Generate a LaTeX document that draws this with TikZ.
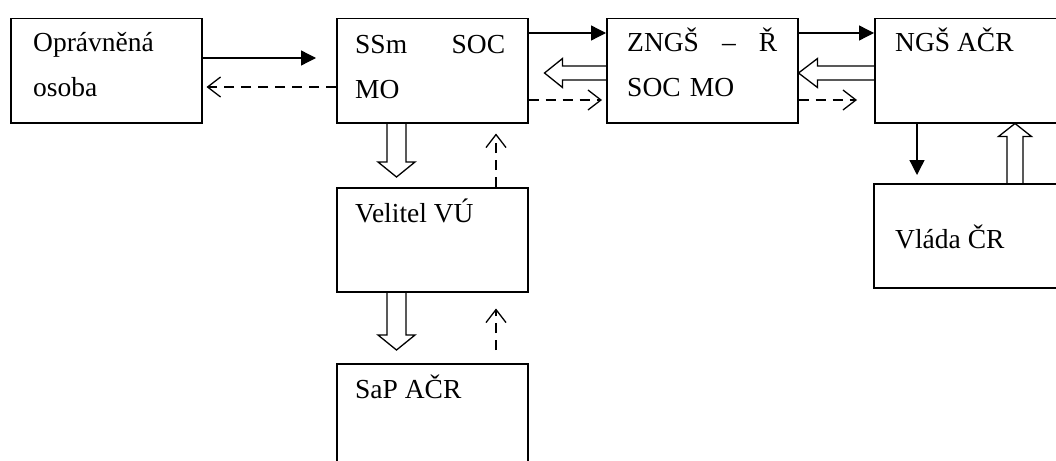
\documentclass[tikz,border=0pt]{standalone}
\usepackage{fontspec}
\setmainfont{Liberation Serif}
\usetikzlibrary{calc}
\usetikzlibrary{arrows.meta}
\tikzstyle{box}=[draw,line width=1.5pt,inner sep=0pt,anchor=north west,minimum width=191pt,minimum height=104pt]
\tikzstyle{txt}=[inner sep=0pt,anchor=base west,font=\fontsize{27.5}{45}\selectfont,align=left]
\tikzstyle{order}=[line width=1.3pt,-{Triangle[length=15pt,width=15pt]}]
\tikzstyle{report}=[line width=1.3pt,dash pattern=on 10pt off 7pt,-{Straight Barb[length=13pt,width=20pt]}]
\tikzstyle{hollow}=[line width=1.3pt,line join=miter]
% #1 shaft half width, #2 head half width, #3 head length, #4 from, #5 to
\newcommand{\fatarrow}[5]{%
\coordinate (fa) at (#4);
\coordinate (ft) at (#5);
\coordinate (fb) at ($(ft)!#3!(fa)$);
\draw[hollow] ($(fa)!#1!90:(ft)$) -- ($(fb)!#1!-90:(fa)$) -- ($(fb)!#2!-90:(fa)$) -- (ft)
  -- ($(fb)!#2!90:(fa)$) -- ($(fb)!#1!90:(fa)$) -- ($(fa)!#1!-90:(ft)$);}

\begin{document}
\begin{tikzpicture}[x=1pt,y=-1pt]
\useasboundingbox (0,0) rectangle (1056,460);
\node[box] (opr) at (10,18) {};
\node[box] (ssm) at (336,18) {};
\node[box] (zng) at (606,18) {};
\node[box,minimum width=200pt] (ngs) at (874,18) {};
\node[box] (vel) at (336,187) {};
\node[box,minimum height=120pt] (sap) at (336,363) {};
\node[box,minimum width=200pt] (vla) at (873,183) {};
\node[txt,text width=160pt] (opr-t) at ([xshift=23pt,yshift=-34pt]opr.north west) {Oprávněná\\osoba};
\node[txt,text width=150pt] (ssm-t) at ([xshift=19pt,yshift=-35pt]ssm.north west) {SSm\hfill SOC\\MO};
\node[txt,text width=150pt] (zng-t) at ([xshift=21pt,yshift=-34pt]zng.north west) {ZNGŠ\hfill –\hfill Ř\\SOC MO};
\node[txt] (ngs-t) at ([xshift=21pt,yshift=-34pt]ngs.north west) {NGŠ AČR};
\node[txt] (vel-t) at ([xshift=19pt,yshift=-35pt]vel.north west) {Velitel VÚ};
\node[txt] (sap-t) at ([xshift=19pt,yshift=-35pt]sap.north west) {SaP AČR};
\node[txt] (vla-t) at ([xshift=22pt,yshift=-65pt]vla.north west) {Vláda ČR};
% top row
\draw[order,shorten >=20pt] ([yshift=-40pt]opr.north east) -- ([yshift=-40pt]ssm.north west);
\draw[report,shorten >=4pt] ([yshift=-69pt]ssm.north west) -- ([yshift=-69pt]opr.north east);
\draw[order] ([yshift=-15pt]ssm.north east) -- ([yshift=-15pt]zng.north west);
\fatarrow{7pt}{14.5pt}{18pt}{[yshift=-55pt]zng.north west}{[xshift=16pt,yshift=-55pt]ssm.north east}
\draw[report,shorten >=4pt] ([yshift=-82pt]ssm.north east) -- ([yshift=-82pt]zng.north west);
\draw[order] ([yshift=-15pt]zng.north east) -- ([yshift=-15pt]ngs.north west);
\fatarrow{7pt}{14.5pt}{19pt}{[yshift=-55pt]ngs.north west}{[yshift=-55pt]zng.north east}
\draw[report,shorten >=17pt] ([yshift=-82pt]zng.north east) -- ([yshift=-82pt]ngs.north west);
% column
\fatarrow{9.5pt}{18.5pt}{15pt}{[xshift=60.5pt]ssm.south west}{[xshift=60.5pt,yshift=10pt]vel.north west}
\draw[report,shorten >=10pt] ([xshift=160pt]vel.north west) -- ([xshift=160pt]ssm.south west);
\fatarrow{9.5pt}{18.5pt}{15pt}{[xshift=60.5pt]vel.south west}{[xshift=60.5pt,yshift=13pt]sap.north west}
\draw[report,shorten <=13pt,shorten >=16pt] ([xshift=160pt]sap.north west) -- ([xshift=160pt]vel.south west);
% right
\draw[order,shorten >=8pt] ([xshift=43pt]ngs.south west) -- ([xshift=44pt]vla.north west);
\fatarrow{8pt}{16.5pt}{13pt}{[xshift=142pt]vla.north west}{[xshift=141pt]ngs.south west}
\end{tikzpicture}
\end{document}
